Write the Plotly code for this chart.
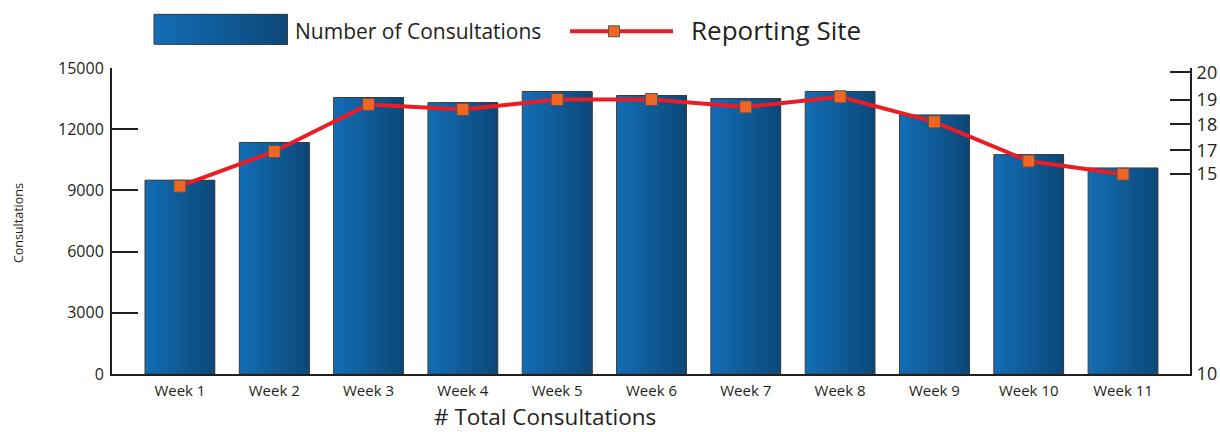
import numpy as np
import plotly.graph_objects as go

# ---------------- data ----------------
weeks = ["Week 1", "Week 2", "Week 3", "Week 4", "Week 5", "Week 6",
         "Week 7", "Week 8", "Week 9", "Week 10", "Week 11"]
consultations = [9500, 11350, 13550, 13300, 13850, 13650, 13500, 13850, 12700, 10750, 10100]
reporting_sites = [14.7, 16.9, 18.8, 18.6, 19.0, 19.0, 18.7, 19.1, 18.1, 16.1, 15.0]
left_ticks = [0, 3000, 6000, 9000, 12000, 15000]
right_tick_labels = [10, 15, 17, 18, 19, 20]

# ---------------- style / layout ----------------
W, H = 1220, 432
ML, MR, MT, MB = 112, 30, 67.5, 57.7
PW = W - ML - MR
PH = H - MT - MB
# the right-hand scale of the original is non-linear; position of each label as fraction of plot height
right_tick_frac = [0.0, 0.653, 0.731, 0.816, 0.897, 0.986]

FONT = "Open Sans"
INK = "#231f20"
C_LEFT = np.array([19, 110, 182])
C_RIGHT = np.array([12, 72, 121])
BAR_W = 0.74
N_LAYERS = 24


def grad_color(t):
    c = C_LEFT + (C_RIGHT - C_LEFT) * t
    return "rgb(%d,%d,%d)" % tuple(int(round(v)) for v in c)


def px_x(px):
    return (px - ML) / PW


def px_y(py):
    return (H - MB - py) / PH


fig = go.Figure()

# gradient bars: stacked overlay layers, each covering from k/N to the right edge
for k in range(N_LAYERS):
    f = k / N_LAYERS
    fig.add_trace(go.Bar(
        x=weeks, y=consultations,
        width=[BAR_W * (1 - f)] * len(weeks),
        offset=[-BAR_W / 2 + BAR_W * f] * len(weeks),
        marker=dict(color=grad_color((k + 0.5) / N_LAYERS), line=dict(width=0)),
        showlegend=False, hoverinfo="skip"))

# bar outline
fig.add_trace(go.Bar(
    x=weeks, y=consultations, width=[BAR_W] * len(weeks), offset=[-BAR_W / 2] * len(weeks),
    marker=dict(color="rgba(0,0,0,0)", line=dict(color="#3c3c3c", width=1)),
    name="Number of Consultations", showlegend=False))

# reporting sites line, mapped onto the non-linear right scale
site_pos = np.interp(reporting_sites, right_tick_labels, right_tick_frac)
fig.add_trace(go.Scatter(
    x=weeks, y=site_pos, yaxis="y2", mode="lines+markers",
    line=dict(color="#ed1c24", width=4),
    marker=dict(symbol="square", size=12, color="#f26522", line=dict(color="#555555", width=1)),
    name="Reporting Site", showlegend=False,
    customdata=reporting_sites, hovertemplate="%{x}: %{customdata}<extra></extra>"))

# ---------------- manual legend ----------------
shapes = []
lx0, lx1, ly0, ly1 = 154, 287.3, 13.7, 43.7
NS = 30
for k in range(NS):
    shapes.append(dict(type="rect", xref="paper", yref="paper",
                       x0=px_x(lx0 + (lx1 - lx0) * k / NS), x1=px_x(lx1),
                       y0=px_y(ly1), y1=px_y(ly0),
                       fillcolor=grad_color((k + 0.5) / NS), line=dict(width=0), layer="above"))
shapes.append(dict(type="rect", xref="paper", yref="paper", x0=px_x(lx0), x1=px_x(lx1),
                   y0=px_y(ly1), y1=px_y(ly0), line=dict(color="#3c3c3c", width=1), layer="above"))
shapes.append(dict(type="line", xref="paper", yref="paper", x0=px_x(570), x1=px_x(673),
                   y0=px_y(30.7), y1=px_y(30.7), line=dict(color="#ed1c24", width=4), layer="above"))
shapes.append(dict(type="rect", xref="paper", yref="paper", x0=px_x(608.5), x1=px_x(619.5),
                   y0=px_y(36.2), y1=px_y(25.2), fillcolor="#f26522",
                   line=dict(color="#555555", width=1), layer="above"))

annotations = [
    dict(text="Number of Consultations", xref="paper", yref="paper", x=px_x(293), y=px_y(30),
         xanchor="left", yanchor="middle", showarrow=False, font=dict(family=FONT, size=21, color=INK)),
    dict(text="Reporting Site", xref="paper", yref="paper", x=px_x(689), y=px_y(29),
         xanchor="left", yanchor="middle", showarrow=False, font=dict(family=FONT, size=26, color=INK)),
    dict(text="# Total Consultations", xref="paper", yref="paper", x=px_x(545), y=px_y(416.5),
         xanchor="center", yanchor="middle", showarrow=False, borderpad=0,
         font=dict(family=FONT, size=22.5, color=INK)),
    dict(text="Consultations", xref="paper", yref="paper", x=px_x(18), y=px_y(223), textangle=-90,
         xanchor="center", yanchor="middle", showarrow=False, font=dict(family=FONT, size=12.5, color=INK)),
]

fig.update_layout(
    width=W, height=H, autosize=False,
    margin=dict(l=ML, r=MR, t=MT, b=MB, pad=0, autoexpand=False),
    paper_bgcolor="white", plot_bgcolor="white",
    barmode="overlay", showlegend=False,
    font=dict(family=FONT, color=INK),
    shapes=shapes, annotations=annotations,
    xaxis=dict(type="category", range=[-0.72, 10.71], showline=True, linecolor=INK, linewidth=2,
               ticks="", showgrid=False, zeroline=False, tickfont=dict(size=15, color=INK),
               ticklabelstandoff=2, automargin=False, fixedrange=True),
    yaxis=dict(range=[0, 15000], tickvals=left_ticks, tickformat="d", showline=True, linecolor=INK,
               linewidth=2, ticks="inside", ticklen=26, tickwidth=2, tickcolor=INK, showgrid=False,
               zeroline=False, tickfont=dict(size=16, color=INK), ticklabelstandoff=3, automargin=False),
    yaxis2=dict(overlaying="y", side="right", range=[0, 1], tickvals=right_tick_frac,
                ticktext=[str(v) for v in right_tick_labels], showline=True, linecolor=INK, linewidth=2,
                ticks="inside", ticklen=20, tickwidth=2, tickcolor=INK, showgrid=False, zeroline=False,
                tickfont=dict(size=18, color=INK), ticklabelstandoff=1, automargin=False),
)

fig.write_html("out.html", config={"displayModeBar": False},
               post_script="document.body.style.margin='0';document.body.style.overflow='hidden';")
